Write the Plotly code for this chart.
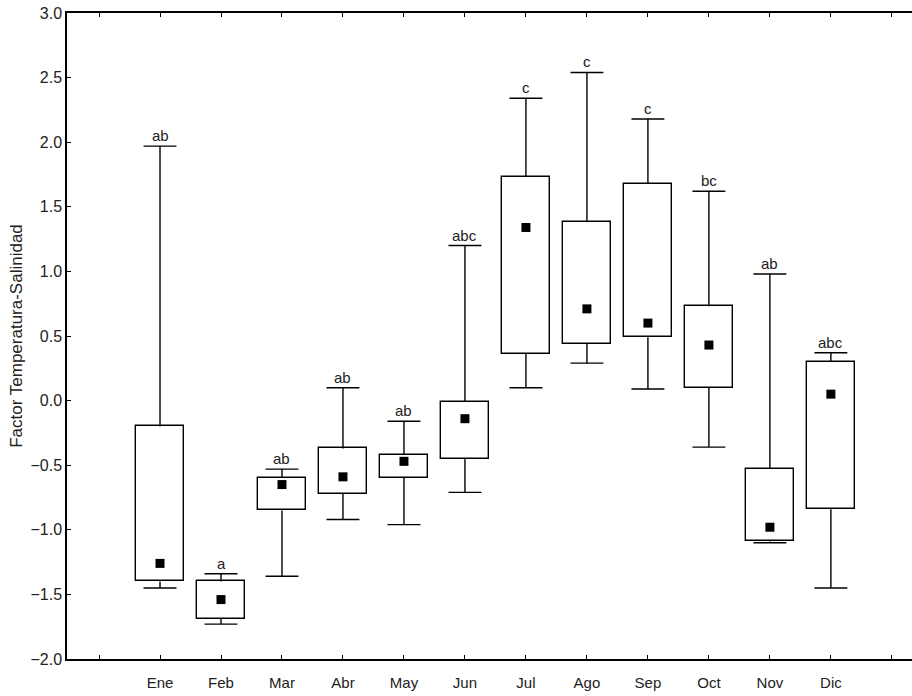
import plotly.graph_objects as go

months = ["Ene", "Feb", "Mar", "Abr", "May", "Jun", "Jul", "Ago", "Sep", "Oct", "Nov", "Dic"]
positions = list(range(1, 13))
whisker_max = [1.97, -1.34, -0.53, 0.10, -0.16, 1.20, 2.34, 2.54, 2.18, 1.62, 0.98, 0.37]
q3_vals = [-0.20, -1.40, -0.60, -0.37, -0.42, -0.01, 1.73, 1.38, 1.68, 0.73, -0.53, 0.30]
medians = [-1.26, -1.54, -0.65, -0.59, -0.47, -0.14, 1.34, 0.71, 0.60, 0.43, -0.98, 0.05]
q1_vals = [-1.40, -1.69, -0.85, -0.72, -0.60, -0.45, 0.36, 0.44, 0.49, 0.10, -1.09, -0.84]
whisker_min = [-1.45, -1.73, -1.36, -0.92, -0.96, -0.71, 0.10, 0.29, 0.09, -0.36, -1.10, -1.45]
letters = ["ab", "a", "ab", "ab", "ab", "abc", "c", "c", "c", "bc", "ab", "abc"]

font_family = "Liberation Sans, Arial, sans-serif"
text_color = "#222222"
box_width = 0.78
cap_half = 0.27
line_w = 1.4

fig = go.Figure()

# Boxes (25%-75%) drawn as bars with a base
fig.add_trace(go.Bar(
    x=positions,
    y=[hi - lo for hi, lo in zip(q3_vals, q1_vals)],
    base=q1_vals,
    width=box_width,
    marker=dict(color="white", line=dict(color="black", width=line_w)),
    showlegend=False,
    hoverinfo="skip",
))

# Whiskers (min-max) with caps, only outside the box
wx, wy = [], []
for p, hi, top, bot, lo in zip(positions, whisker_max, q3_vals, q1_vals, whisker_min):
    wx += [p, p, None, p - cap_half, p + cap_half, None,
           p, p, None, p - cap_half, p + cap_half, None]
    wy += [top, hi, None, hi, hi, None,
           bot, lo, None, lo, lo, None]

fig.add_trace(go.Scatter(
    x=wx, y=wy, mode="lines",
    line=dict(color="black", width=line_w),
    showlegend=False, hoverinfo="skip", connectgaps=False,
))

# Medians
fig.add_trace(go.Scatter(
    x=positions,
    y=medians,
    mode="markers",
    marker=dict(symbol="square", size=9, color="black"),
    showlegend=False,
    hoverinfo="skip",
))

for p, top, lab in zip(positions, whisker_max, letters):
    fig.add_annotation(
        x=p, y=top, text=lab, showarrow=False,
        yanchor="bottom", yshift=0,
        font=dict(family=font_family, size=15, color=text_color),
    )

tickvals = list(range(0, 14))
ticktext = [""] + months + [""]

fig.update_layout(
    width=912, height=696,
    margin=dict(l=67, r=0, t=13, b=37),
    paper_bgcolor="white",
    plot_bgcolor="white",
    bargap=0,
    font=dict(family=font_family, size=15, color=text_color),
    xaxis=dict(
        range=[-0.525, 13.33],
        tickvals=tickvals,
        ticktext=ticktext,
        ticks="inside",
        ticklen=4,
        tickcolor="black",
        showline=True,
        linecolor="black",
        linewidth=1.5,
        mirror="ticks",
        showgrid=False,
        zeroline=False,
        ticklabelstandoff=9,
        tickfont=dict(family=font_family, size=15, color=text_color),
    ),
    yaxis=dict(
        range=[-2.0, 3.0],
        tickvals=[-2.0, -1.5, -1.0, -0.5, 0.0, 0.5, 1.0, 1.5, 2.0, 2.5, 3.0],
        tickformat=".1f",
        ticks="inside",
        ticklen=4,
        tickcolor="black",
        showline=True,
        linecolor="black",
        linewidth=1.5,
        showgrid=False,
        zeroline=False,
        tickfont=dict(family=font_family, size=16, color=text_color),
        title=dict(text="Factor Temperatura-Salinidad", standoff=4,
                   font=dict(family=font_family, size=17, color=text_color)),
    ),
)

fig.write_html("out.html")
